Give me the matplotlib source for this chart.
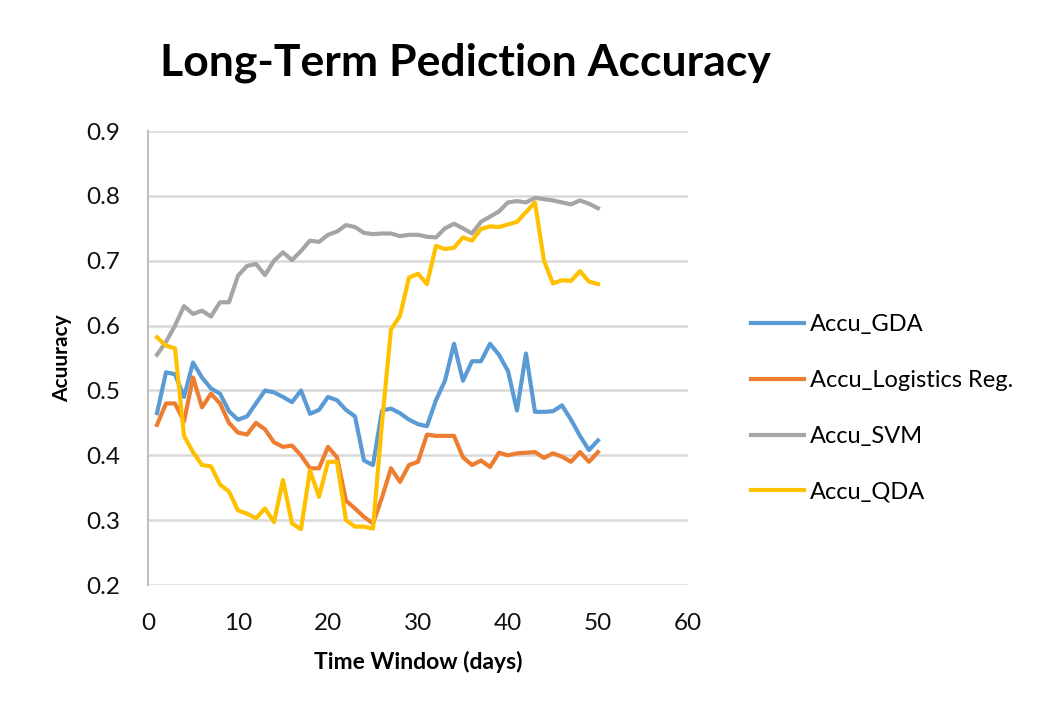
import numpy as np
import matplotlib
matplotlib.use("Agg")
import matplotlib.pyplot as plt

plt.rcParams['font.family'] = ['Lato', 'DejaVu Sans']

# 時間窓 (days)
days = list(range(1, 51))

accu_gda = [0.465, 0.528, 0.525, 0.490, 0.543, 0.520, 0.503, 0.495, 0.468, 0.455,
            0.460, 0.480, 0.500, 0.497, 0.490, 0.482, 0.500, 0.464, 0.470, 0.490,
            0.485, 0.470, 0.460, 0.392, 0.385, 0.469, 0.472, 0.465, 0.455, 0.448,
            0.445, 0.485, 0.515, 0.572, 0.515, 0.545, 0.545, 0.572, 0.555, 0.530,
            0.469, 0.557, 0.467, 0.467, 0.468, 0.477, 0.455, 0.430, 0.408, 0.423]

accu_logreg = [0.447, 0.480, 0.480, 0.452, 0.520, 0.474, 0.495, 0.480, 0.450, 0.435,
               0.432, 0.450, 0.440, 0.420, 0.413, 0.415, 0.400, 0.380, 0.380, 0.413,
               0.397, 0.330, 0.318, 0.305, 0.295, 0.335, 0.380, 0.359, 0.385, 0.390,
               0.432, 0.430, 0.430, 0.430, 0.397, 0.385, 0.392, 0.382, 0.404, 0.400,
               0.403, 0.404, 0.405, 0.396, 0.403, 0.398, 0.390, 0.405, 0.390, 0.405]

accu_svm = [0.555, 0.575, 0.600, 0.630, 0.618, 0.623, 0.614, 0.636, 0.636, 0.677,
            0.692, 0.695, 0.678, 0.700, 0.713, 0.701, 0.715, 0.731, 0.729, 0.740,
            0.745, 0.755, 0.752, 0.743, 0.741, 0.742, 0.742, 0.738, 0.740, 0.740,
            0.737, 0.736, 0.750, 0.757, 0.750, 0.742, 0.760, 0.768, 0.776, 0.790,
            0.792, 0.790, 0.797, 0.795, 0.793, 0.790, 0.787, 0.793, 0.788, 0.781]

accu_qda = [0.582, 0.569, 0.565, 0.430, 0.405, 0.385, 0.383, 0.355, 0.344, 0.315,
            0.310, 0.303, 0.318, 0.297, 0.362, 0.295, 0.286, 0.377, 0.336, 0.390,
            0.390, 0.300, 0.290, 0.290, 0.287, 0.450, 0.594, 0.615, 0.674, 0.680,
            0.664, 0.723, 0.718, 0.720, 0.736, 0.731, 0.749, 0.753, 0.752, 0.756,
            0.760, 0.775, 0.790, 0.700, 0.665, 0.670, 0.669, 0.684, 0.668, 0.664]

fig = plt.figure(figsize=(10.46, 7.08), dpi=100)
ax = fig.add_axes([0.1415, 0.1737, 0.5162, 0.6412])

ax.plot(days, accu_gda, color='#5B9BD5', lw=3, label='Accu_GDA', solid_joinstyle='round')
ax.plot(days, accu_logreg, color='#ED7D31', lw=3, label='Accu_Logistics Reg.', solid_joinstyle='round')
ax.plot(days, accu_svm, color='#A5A5A5', lw=3, label='Accu_SVM', solid_joinstyle='round')
ax.plot(days, accu_qda, color='#FFC000', lw=3, label='Accu_QDA', solid_joinstyle='round')

ax.set_xlim(0, 60)
ax.set_ylim(0.2, 0.9)
ax.set_xticks(range(0, 61, 10))
ax.set_yticks(np.arange(0.2, 0.91, 0.1))
ax.set_yticklabels(['0.2', '0.3', '0.4', '0.5', '0.6', '0.7', '0.8', '0.9'])
ax.tick_params(axis='both', length=0, labelsize=17.5, labelcolor='#111111')
ax.tick_params(axis='y', pad=20)
ax.tick_params(axis='x', pad=20)
ax.grid(axis='y', color='#D9D9D9', lw=1.8)
ax.set_axisbelow(True)
for s in ['top', 'right', 'bottom']:
    ax.spines[s].set_visible(False)
ax.spines['left'].set_color('#BFBFBF')
ax.spines['left'].set_linewidth(1.5)

ax.set_xlabel('Time Window (days)', fontsize=16.5, fontweight='bold', labelpad=12)
ax.set_ylabel('Acuuracy', fontsize=15, fontweight='bold', labelpad=10)

fig.text(0.153, 0.912, 'Long-Term Pediction Accuracy', fontsize=32, fontweight='bold', va='center')

fig.legend(loc='upper left', bbox_to_anchor=(0.698, 0.586), frameon=False,
           fontsize=17, handlelength=2.25, handletextpad=0.25, labelspacing=1.47)

fig.savefig('out.png', dpi=100)
